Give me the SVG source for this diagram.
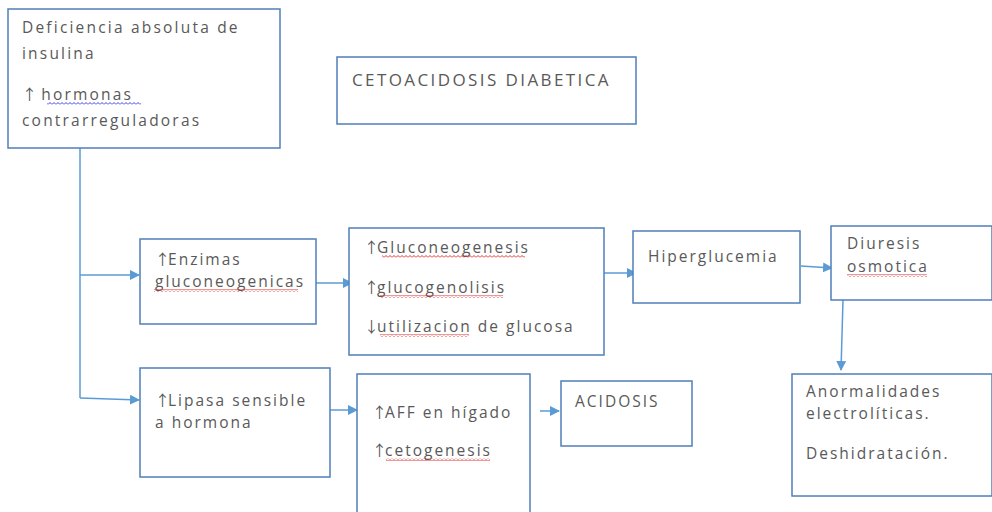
<svg xmlns="http://www.w3.org/2000/svg" width="992" height="512" viewBox="0 0 992 512">
<style>
.box{fill:#fff;stroke:#4f7fb8;stroke-width:1.5}
.t{font-family:"Open Sans","Liberation Sans",sans-serif;font-size:15.5px;fill:#595959;letter-spacing:2px}
.ar{font-family:"Noto Sans CJK SC",sans-serif;font-size:15px;letter-spacing:-2px}
.c{fill:none;stroke:#5b9bd5;stroke-width:1.5}
</style>
<defs>
<marker id="ah" markerWidth="10" markerHeight="10" refX="9" refY="5" orient="auto" markerUnits="userSpaceOnUse">
<path d="M0,0 L10,5 L0,10 Z" fill="#5b9bd5"/>
</marker>
<pattern id="wr" width="4" height="3" patternUnits="userSpaceOnUse">
<path d="M0,2.5 L2,0.5 L4,2.5" fill="none" stroke="#e03030" stroke-width="1"/>
</pattern>
<pattern id="wb" width="4" height="3" patternUnits="userSpaceOnUse">
<path d="M0,2.5 L2,0.5 L4,2.5" fill="none" stroke="#4040e0" stroke-width="1"/>
</pattern>
</defs>
<g id="connectors">
<path class="c" d="M80,135 V398"/>
<path class="c" d="M80,275 H139" marker-end="url(#ah)"/>
<path class="c" d="M80,398 L139,400" marker-end="url(#ah)"/>
<path class="c" d="M316,283 H352" marker-end="url(#ah)"/>
<path class="c" d="M594,273 H636" marker-end="url(#ah)"/>
<path class="c" d="M801,266 L832,268" marker-end="url(#ah)"/>
<path class="c" d="M843,300 L841,370" marker-end="url(#ah)"/>
<path class="c" d="M322,410 H357" marker-end="url(#ah)"/>
<path class="c" d="M540,411 H559" marker-end="url(#ah)"/>
</g>
<g id="n-deficiencia">
<rect class="box" x="8" y="9" width="272" height="139"/>
<text class="t" x="22" y="33" style="letter-spacing:2.2px">Deficiencia absoluta de</text>
<text class="t" x="22" y="59" style="letter-spacing:2.2px">insulina</text>
<text class="t" x="22" y="100" style="letter-spacing:2.2px"><tspan class="ar">↑</tspan> hormonas</text>
<text class="t" x="22" y="126" style="letter-spacing:2.2px">contrarreguladoras</text>
<rect x="47" y="102" width="94" height="3" fill="url(#wb)"/>
</g>
<g id="n-title">
<rect class="box" x="337" y="57" width="299" height="67"/>
<text class="t" x="352" y="86" style="font-size:17px;letter-spacing:2.4px">CETOACIDOSIS DIABETICA</text>
</g>
<g id="n-enzimas">
<rect class="box" x="140" y="239" width="176" height="85"/>
<text class="t" x="155" y="265"><tspan class="ar">↑</tspan>Enzimas</text>
<text class="t" x="155" y="287">gluconeogenicas</text>
<rect x="154" y="289" width="144" height="3" fill="url(#wr)"/>
</g>
<g id="n-gluconeo">
<rect class="box" x="349" y="228" width="255" height="127"/>
<text class="t" x="364" y="253"><tspan class="ar">↑</tspan>Gluconeogenesis</text>
<text class="t" x="364" y="293"><tspan class="ar">↑</tspan>glucogenolisis</text>
<text class="t" x="364" y="332"><tspan class="ar">↓</tspan>utilizacion de glucosa</text>
<rect x="382" y="255" width="143" height="3" fill="url(#wr)"/>
<rect x="380" y="295" width="123" height="3" fill="url(#wr)"/>
<rect x="380" y="334" width="89" height="3" fill="url(#wr)"/>
</g>
<g id="n-hiperglucemia">
<rect class="box" x="633" y="231" width="167" height="72"/>
<text class="t" x="648" y="262">Hiperglucemia</text>
</g>
<g id="n-diuresis">
<rect class="box" x="831" y="226" width="161" height="74"/>
<text class="t" x="847" y="249">Diuresis</text>
<text class="t" x="847" y="272">osmotica</text>
<rect x="847" y="274" width="80" height="3" fill="url(#wr)"/>
</g>
<g id="n-lipasa">
<rect class="box" x="140" y="368" width="190" height="109"/>
<text class="t" x="155" y="406"><tspan class="ar">↑</tspan>Lipasa sensible</text>
<text class="t" x="155" y="428">a hormona</text>
</g>
<g id="n-aff">
<rect class="box" x="357" y="374" width="173" height="145"/>
<text class="t" x="372" y="418"><tspan class="ar">↑</tspan>AFF en hígado</text>
<text class="t" x="372" y="456"><tspan class="ar">↑</tspan>cetogenesis</text>
<rect x="386" y="458" width="104" height="3" fill="url(#wr)"/>
</g>
<g id="n-acidosis">
<rect class="box" x="561" y="381" width="131" height="65"/>
<text class="t" x="575" y="407">ACIDOSIS</text>
</g>
<g id="n-anormalidades">
<rect class="box" x="792" y="374" width="200" height="122"/>
<text class="t" x="806" y="397">Anormalidades</text>
<text class="t" x="806" y="419">electrolíticas.</text>
<text class="t" x="806" y="459">Deshidratación.</text>
</g>
</svg>
